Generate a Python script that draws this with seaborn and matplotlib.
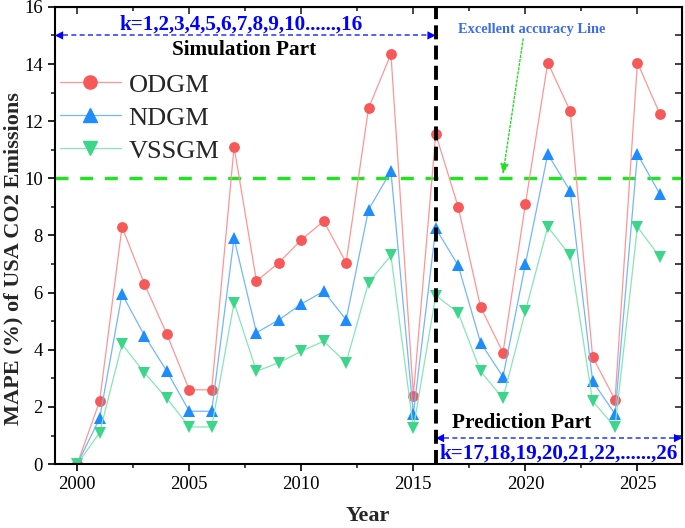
import numpy as np
import pandas as pd
import matplotlib.pyplot as plt
import seaborn as sns
from matplotlib.lines import Line2D
from matplotlib.ticker import MultipleLocator

years = list(range(2000, 2027))
odgm = [0.0, 2.2, 8.3, 6.3, 4.55, 2.6, 2.6, 11.1, 6.4, 7.05, 7.85, 8.5, 7.05, 12.45,
        14.35, 2.4, 11.55, 9.0, 5.5, 3.9, 9.1, 14.05, 12.35, 3.75, 2.25, 14.05, 12.25]
ndgm = [0.0, 1.6, 5.95, 4.5, 3.25, 1.85, 1.85, 7.9, 4.6, 5.05, 5.6, 6.05, 5.05, 8.9,
        10.25, 1.75, 8.25, 6.95, 4.25, 3.05, 7.0, 10.85, 9.55, 2.9, 1.75, 10.85, 9.45]
vssgm = [0.0, 1.1, 4.2, 3.2, 2.3, 1.3, 1.3, 5.65, 3.25, 3.55, 3.95, 4.3, 3.55, 6.35,
         7.3, 1.25, 5.9, 5.3, 3.25, 2.3, 5.35, 8.3, 7.3, 2.2, 1.3, 8.3, 7.25]
models = ['ODGM', 'NDGM', 'VSSGM']
accuracy_line = 10
split_year = 2016

marker_colors = {'ODGM': '#F75858', 'NDGM': '#1E8CFA', 'VSSGM': '#3CD68A'}
line_colors = {'ODGM': '#FF9595', 'NDGM': '#72B6FF', 'VSSGM': '#86E6B5'}
marker_shapes = {'ODGM': 'o', 'NDGM': '^', 'VSSGM': 'v'}
marker_sizes = {'ODGM': 7.8, 'NDGM': 8.5, 'VSSGM': 8.5}

df = pd.DataFrame({
    'Year': years * 3,
    'MAPE': odgm + ndgm + vssgm,
    'Model': sum([[m] * len(years) for m in models], []),
})

sns.set_style('ticks')
plt.rcParams['font.family'] = ['Liberation Serif', 'DejaVu Serif']

fig, ax = plt.subplots(figsize=(6.85, 5.28), dpi=100)
fig.subplots_adjust(left=0.080, right=0.996, top=0.987, bottom=0.121)

sns.lineplot(data=df, x='Year', y='MAPE', hue='Model', style='Model',
             palette=line_colors, markers=marker_shapes, dashes=False,
             linewidth=0.9, markersize=8.5, markeredgewidth=0, legend=False, ax=ax)
for line, m in zip(ax.lines, models):
    line.set_markerfacecolor(marker_colors[m])
    line.set_markeredgecolor(marker_colors[m])
    line.set_markersize(marker_sizes[m])

# reference lines
ax.axhline(accuracy_line, color='#1EE61E', lw=2.4, dashes=(3.9, 3.5), zorder=1)
ax.axvline(split_year, color='black', lw=2.8, dashes=(3.6, 1.6), zorder=4)

ax.set_xlim(1999, 2027)
ax.set_ylim(0, 16)
ax.xaxis.set_major_locator(MultipleLocator(5))
ax.xaxis.set_minor_locator(MultipleLocator(2.5))
ax.yaxis.set_major_locator(MultipleLocator(2))
ax.yaxis.set_minor_locator(MultipleLocator(1))
ax.tick_params(which='major', direction='out', length=5, width=1.2, labelsize=13.5, colors='black')
ax.tick_params(which='minor', direction='out', length=3, width=1.2)
for s in ax.spines.values():
    s.set_visible(True)
    s.set_linewidth(1.5)
    s.set_color('black')

top = ax.secondary_xaxis('top')
top.xaxis.set_major_locator(MultipleLocator(5))
top.xaxis.set_minor_locator(MultipleLocator(2.5))
top.tick_params(which='both', direction='in', labeltop=False, width=1.2)
top.tick_params(which='major', length=5)
top.tick_params(which='minor', length=3)
right = ax.secondary_yaxis('right')
right.yaxis.set_major_locator(MultipleLocator(1))
right.tick_params(which='both', direction='in', labelright=False, width=1.2, length=5)

ax.set_xlabel('Year', fontsize=16, fontweight='bold')
ax.xaxis.set_label_coords(0.499, -0.092)
ax.set_ylabel('MAPE (%) of USA CO2 Emissions', fontsize=16, fontweight='bold')
ax.yaxis.set_label_coords(-0.0494, 0.45)

# simulation part annotation
ax.plot([1999.35, 2015.65], [15, 15], color='#3344FF', lw=1.2, ls=(0, (3, 2)))
for tip, tail in [(1999, 1999.6), (2016, 2015.4)]:
    ax.annotate('', xy=(tip, 15), xytext=(tail, 15),
                arrowprops=dict(arrowstyle='-|>,head_length=0.6,head_width=0.3',
                                color='#0000FF', lw=0, shrinkA=0, shrinkB=0))
ax.text(2007.3, 15.37, 'k=1,2,3,4,5,6,7,8,9,10......,16', color='#0000FF',
        fontsize=15.2, fontweight='bold', ha='center', va='center')
ax.text(2007.45, 14.5, 'Simulation Part', color='black',
        fontsize=15.3, fontweight='bold', ha='center', va='center')

# prediction part annotation
ax.plot([2016.35, 2026.65], [0.91, 0.91], color='#3344FF', lw=1.2, ls=(0, (3, 2)))
for tip, tail in [(2016, 2016.6), (2027, 2026.4)]:
    ax.annotate('', xy=(tip, 0.91), xytext=(tail, 0.91),
                arrowprops=dict(arrowstyle='-|>,head_length=0.6,head_width=0.3',
                                color='#0000FF', lw=0, shrinkA=0, shrinkB=0))
ax.text(2019.85, 1.44, 'Prediction Part', color='black',
        fontsize=15.3, fontweight='bold', ha='center', va='center')
ax.text(2021.5, 0.38, 'k=17,18,19,20,21,22,......,26', color='#0000FF',
        fontsize=15.2, fontweight='bold', ha='center', va='center')

# excellent accuracy label
ax.text(2020.3, 15.2, 'Excellent accuracy Line', color='#3A6CF0',
        fontsize=10.4, fontweight='bold', ha='center', va='center')
ax.annotate('', xy=(2019.0, 10.15), xytext=(2019.9, 14.88),
            arrowprops=dict(arrowstyle='-|>,head_length=0.6,head_width=0.25',
                            color='#22DD22', lw=1.0, ls=(0, (1.5, 1.5)),
                            shrinkA=0, shrinkB=0))

handles = [Line2D([], [], color=line_colors[m], lw=0.9, marker=marker_shapes[m],
                  markersize=9.5, markerfacecolor=marker_colors[m],
                  markeredgecolor=marker_colors[m]) for m in models]
ax.legend(handles, models, loc='upper left', bbox_to_anchor=(0.008, 0.855),
          frameon=False, fontsize=19, handlelength=2.3, handletextpad=0.3,
          labelspacing=0.36, borderpad=0, borderaxespad=0)

fig.savefig('out.png', dpi=100)
